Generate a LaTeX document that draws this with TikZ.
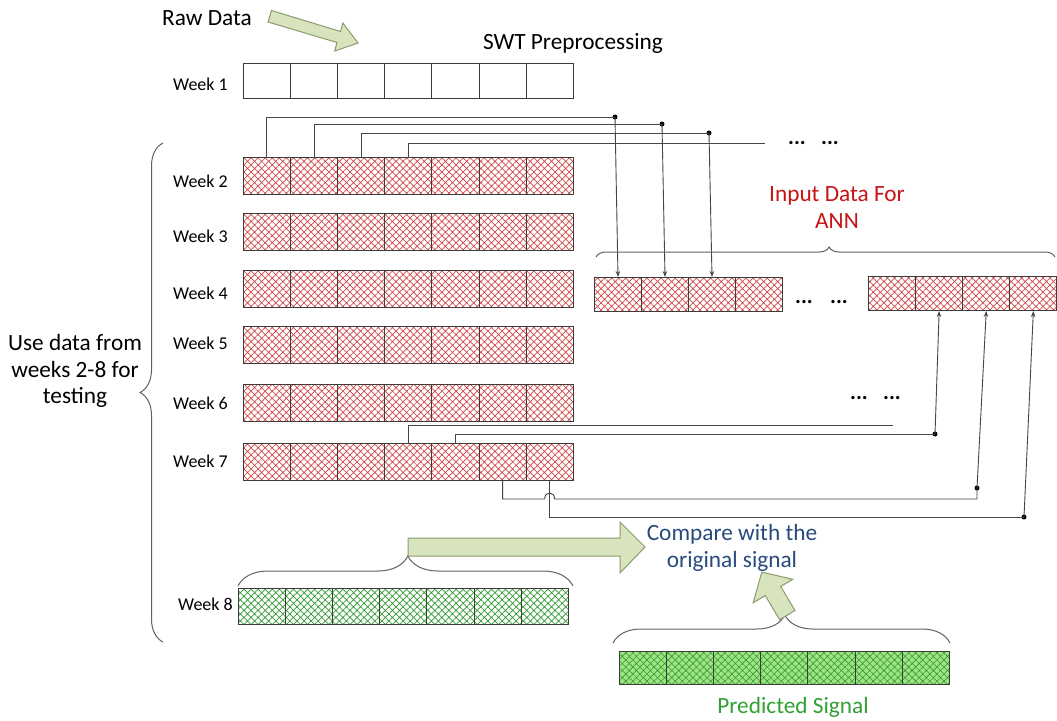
\documentclass[tikz,border=0pt]{standalone}
\usepackage{fontspec}
\setmainfont{Carlito}
\usetikzlibrary{patterns.meta,arrows.meta,decorations.pathreplacing,calc}
\definecolor{hatchred}{RGB}{210,70,70}
\definecolor{hatchgreen}{RGB}{50,155,50}
\definecolor{predfill}{RGB}{160,228,130}
\definecolor{arrowfill}{RGB}{215,228,189}
\definecolor{arrowdraw}{RGB}{140,155,110}
\definecolor{celldraw}{RGB}{60,60,60}
\definecolor{anntext}{RGB}{200,20,20}
\definecolor{cmptext}{RGB}{40,75,125}
\definecolor{predtext}{RGB}{50,160,50}
\definecolor{linegray}{RGB}{70,70,70}
\tikzset{
  cellbase/.style={draw=celldraw, line width=1pt, inner sep=0pt, anchor=north west},
  plaincell/.style={cellbase},
  redcell/.style={cellbase, pattern={Hatch[angle=45,distance=5pt,line width=0.7pt]}, pattern color=hatchred},
  greencell/.style={cellbase, pattern={Hatch[angle=45,distance=5pt,line width=0.7pt]}, pattern color=hatchgreen},
  predcell/.style={cellbase, preaction={fill=predfill}, pattern={Hatch[angle=45,distance=5pt,line width=0.6pt]}, pattern color=hatchgreen},
  conn/.style={draw=linegray, line width=0.9pt},
  arr/.style={conn, -{Stealth[length=6pt,width=4.5pt]}},
  blockarrow/.style={fill=arrowfill, draw=arrowdraw, line width=1pt, line join=miter},
  bigtext/.style={font=\fontsize{23.3}{28}\selectfont, inner sep=0pt},
  weektext/.style={font=\fontsize{18}{22}\selectfont, inner sep=0pt, anchor=base east},
  dotstext/.style={font=\fontsize{22}{26}\selectfont\bfseries, inner sep=0pt, anchor=base},
  bracestyle/.style={draw=linegray!85, line width=1pt, decorate},
  junction/.style={circle, fill=black, inner sep=0pt, minimum size=5pt},
}
\newcommand\cellrow[7]{%
  \foreach \i in {1,...,#4}{%
    \node[#7, minimum width=#5pt, minimum height=#6pt] (#1-\i) at ({#2+(\i-1)*#5}, #3) {};
  }%
}
\begin{document}
\begin{tikzpicture}[x=1pt, y=-1pt]
\useasboundingbox[fill=white] (0,0) rectangle (1057,720);

% texts
\node[bigtext, anchor=base] (raw) at (207,25) {Raw Data};
\node[bigtext, anchor=base] (swt) at (573,49) {SWT Preprocessing};
\node[bigtext, align=center, font=\fontsize{23.3}{26.5}\selectfont] (use) at (75,371) {Use data from\\weeks 2-8 for\\testing};
\node[bigtext, align=center, text=anntext, font=\fontsize{23.3}{27}\selectfont] (ann) at (837,208) {Input Data For\\ANN};
\node[bigtext, anchor=base, text=cmptext] (cmp1) at (732,540) {Compare with the};
\node[bigtext, anchor=base, text=cmptext] (cmp2) at (732,567) {original signal};
\node[bigtext, anchor=base, text=predtext] (pred) at (793,713) {Predicted Signal};

% raw data arrow
\draw[blockarrow] (268,22) -- (337,42.5) -- (334.7,51) -- (358,43) -- (342.9,23) -- (340.5,31.5) -- (271.5,10.5) -- cycle;

% week rows
\cellrow{w1}{243}{63}{7}{47.1}{35}{plaincell}
\cellrow{w2}{243}{157}{7}{47.1}{37}{redcell}
\cellrow{w3}{243}{213}{7}{47.1}{37}{redcell}
\cellrow{w4}{243}{270}{7}{47.1}{37}{redcell}
\cellrow{w5}{243}{326}{7}{47.1}{37}{redcell}
\cellrow{w6}{243}{384}{7}{47.1}{37}{redcell}
\cellrow{w7}{243}{443}{7}{47.1}{37}{redcell}
\cellrow{w8}{238}{588}{7}{47.1}{36}{greencell}
\cellrow{pr}{619}{651}{7}{47.1}{33}{predcell}
\cellrow{ina}{594}{277}{4}{47}{34}{redcell}
\cellrow{inb}{868}{276}{4}{47.1}{34}{redcell}

\node[weektext] (l1) at (228,90) {Week 1};
\node[weektext] (l2) at (228,187) {Week 2};
\node[weektext] (l3) at (228,242) {Week 3};
\node[weektext] (l4) at (228,299) {Week 4};
\node[weektext] (l5) at (228,349) {Week 5};
\node[weektext] (l6) at (228,409) {Week 6};
\node[weektext] (l7) at (228,467) {Week 7};
\node[weektext] (l8) at (233,610) {Week 8};

% dots
\node[dotstext] (dt1) at (797,144) {...};
\node[dotstext] (dt2) at (830,144) {...};
\node[dotstext] (dt3) at (804,303) {...};
\node[dotstext] (dt4) at (839,303) {...};
\node[dotstext] (dt5) at (859,399) {...};
\node[dotstext] (dt6) at (892,399) {...};

% top connectors
\node[junction] (j1) at (615,117) {};
\node[junction] (j2) at (662,124) {};
\node[junction] (j3) at (709,133) {};
\coordinate (e4) at (765,143);
\draw[conn] (w2-1.north) |- (j1.center);
\draw[conn] (w2-2.north) |- (j2.center);
\draw[conn] (w2-3.north) |- (j3.center);
\draw[conn] (w2-4.north) |- (e4);
\draw[arr] (j1.center) -- (ina-1.north);
\draw[arr] (j2.center) -- (ina-2.north);
\draw[arr] (j3.center) -- (ina-3.north);

% bottom connectors
\coordinate (e7) at (893,425);
\node[junction] (j4) at (935,434) {};
\node[junction] (j5) at (977,488) {};
\node[junction] (j6) at (1024,517) {};
\coordinate (b1) at (977,499);
\draw[conn] (w7-4.north) |- (e7);
\draw[conn] (w7-5.north) |- (j4.center);
\draw[conn] (w7-6.south) |- ($(w7-7.south |- b1)+(-5,0)$) .. controls +(0,-8) and +(0,-8) .. +(10,0) -- (b1) -- (j5.center);
\draw[conn] (w7-7.south) |- (j6.center);
\draw[arr] (j4.center) -- (inb-2.south);
\draw[arr] (j5.center) -- (inb-3.south);
\draw[arr] (j6.center) -- (inb-4.south);

% braces
\draw[bracestyle, decoration={brace, amplitude=10pt, aspect=0.508}] (596,257) -- (1055,257);
\draw[bracestyle, decoration={brace, amplitude=30pt, aspect=0.507}] (238,586) -- (573,586);
\draw[bracestyle, decoration={brace, amplitude=28pt, aspect=0.51}] (613,643) -- (950,643);
\draw[bracestyle, decoration={brace, amplitude=23pt, aspect=0.5}] (163,642) -- (163,143);

% block arrows
\draw[blockarrow] (408,538) -- (620,538) -- (620,522) -- (645,547) -- (620,573) -- (620,556) -- (408,556) -- cycle;
\draw[blockarrow] (795.0,610.5) -- (780.7,586.4) -- (792.8,579.3) -- (761.8,572.1) -- (753.2,602.7) -- (765.3,595.6) -- (779.6,619.7) -- cycle;
\end{tikzpicture}
\end{document}
